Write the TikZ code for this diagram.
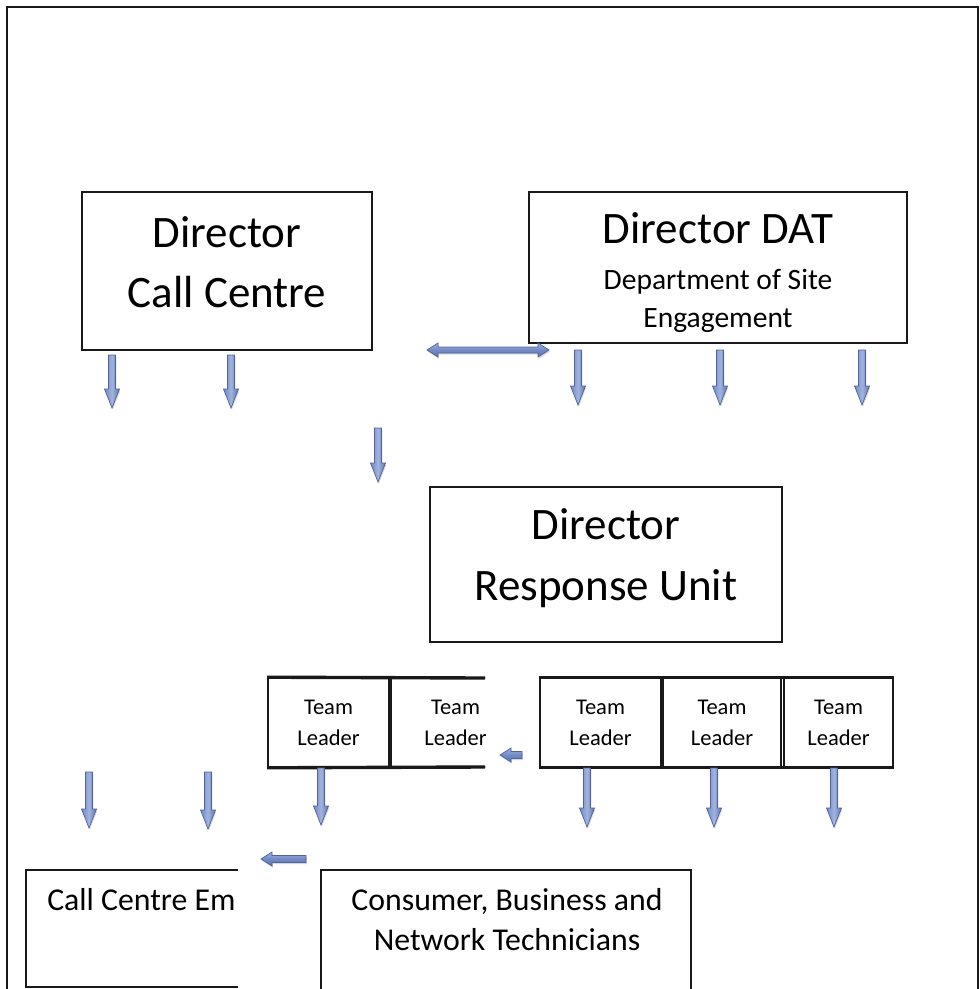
\documentclass[tikz,border=0pt]{standalone}
\usepackage{fontspec}
\setmainfont{Carlito}
\usetikzlibrary{shadows}
\definecolor{arrowblue}{RGB}{114,137,196}
\definecolor{arrowlight}{RGB}{160,178,222}
\definecolor{arrowedge}{RGB}{78,100,160}
\definecolor{linegray}{RGB}{25,25,25}
\tikzset{
    % Boxes
    dirbox/.style={
        rectangle,
        draw=linegray,
        line width=1.4pt,
        inner sep=0pt
    },
    teamcell/.style={
        rectangle,
        draw=linegray,
        line width=1.1pt,
        inner sep=0pt,
        minimum height=2.225cm,
        align=center,
        font=\fontsize{16}{22}\selectfont
    },
    % Texts
    bigtext/.style={
        align=center,
        inner sep=0pt,
        font=\fontsize{32}{43}\selectfont
    },
    midtext/.style={
        align=center,
        inner sep=0pt,
        font=\fontsize{21}{27}\selectfont
    },
    bottomtext/.style={
        align=center,
        inner sep=0pt,
        font=\fontsize{22.6}{28.5}\selectfont
    },
    % Block arrows
    blockarrow/.style={
        draw=arrowedge,
        line width=0.5pt,
        drop shadow={shadow xshift=0.6pt, shadow yshift=-1.2pt, fill=black!30, opacity=0.5}
    },
    pics/downarrow/.style={code={
        \draw[blockarrow, left color=arrowblue, right color=arrowblue!85!black, middle color=arrowlight]
            (-3.5,0) -- (-3.5,#1-19) -- (-7.5,#1-19) -- (0,#1) -- (7.5,#1-19) -- (3.5,#1-19) -- (3.5,0) -- cycle;
    }},
    pics/leftarrow/.style={code={
        \draw[blockarrow, top color=arrowlight, bottom color=arrowblue!85!black, middle color=arrowblue]
            (0,-3.5) -- (-#1+11,-3.5) -- (-#1+11,-7) -- (-#1,0) -- (-#1+11,7) -- (-#1+11,3.5) -- (0,3.5) -- cycle;
    }},
    pics/botharrow/.style={code={
        \draw[blockarrow, top color=arrowlight, bottom color=arrowblue!85!black, middle color=arrowblue]
            (0,0) -- (11,-7) -- (11,-3) -- (#1-11,-3) -- (#1-11,-7) -- (#1,0)
            -- (#1-11,7) -- (#1-11,3) -- (11,3) -- (11,7) -- cycle;
    }}
}
\begin{document}
\begin{tikzpicture}[x=0.025cm, y=-0.025cm]

    % Page
    \path[use as bounding box] (0,0) rectangle (980,989);
    \clip (0,0) rectangle (980,989);
    \draw[linegray, line width=1.8pt] (7,1010) -- (7,7) -- (978,7) -- (978,1010);

    % Directors
    \node[dirbox, minimum width=7.25cm, minimum height=3.95cm] (callcentre) at (227,271) {};
    \node[bigtext] (callcentretext) at (227,262) {Director\\Call Centre};

    \node[dirbox, minimum width=9.45cm, minimum height=3.775cm] (dat) at (718,267.5) {};
    \node[bigtext] (dattext) at (718,228) {Director DAT};
    \node[midtext] (datsub) at (718,301) {Department of Site\\Engagement};

    \node[dirbox, minimum width=8.8cm, minimum height=3.875cm] (response) at (606,564.5) {};
    \node[bigtext] (responsetext) at (606,558) {Director\\Response Unit};

    % Team leaders, left group
    \node[teamcell, minimum width=3.025cm] (tl1) at (328.5,722.5) {Team\\Leader};
    \begin{scope}
        \clip (380,660) rectangle (485,780);
        \node[teamcell, minimum width=3.225cm] (tl2) at (455.5,722.5) {Team\\Leader};
    \end{scope}
    \draw[linegray, line width=2.4pt] (tl1.north west) -- (485,678);
    \draw[linegray, line width=2.4pt] (tl1.south west) -- (485,767);

    % Team leaders, right group
    \node[teamcell, minimum width=3.025cm] (tl3) at (600.5,722.5) {Team\\Leader};
    \node[teamcell, minimum width=2.95cm] (tl4) at (722,722.5) {Team\\Leader};
    \node[teamcell, minimum width=2.725cm] (tl5) at (838.5,722.5) {Team\\Leader};
    \draw[linegray, line width=2.4pt] (tl3.north west) -- (tl5.north east);
    \draw[linegray, line width=2.4pt] (tl3.south west) -- (tl5.south east);

    % Staff
    \draw[linegray, line width=1.4pt] (238,870) -- (26,870) -- (26,987) -- (238,987);
    \begin{scope}
        \clip (20,860) rectangle (238,989);
        \node[bottomtext, anchor=west] (callstaff) at (47,900) {Call Centre Em};
    \end{scope}

    \node[dirbox, minimum width=9.225cm, minimum height=4.0cm] (techs) at (506,950) {};
    \node[bottomtext] (techtext) at (507,920) {Consumer, Business and\\Network Technicians};

    % Arrows
    \pic at (112,355) {downarrow=53};
    \pic at (231,355) {downarrow=53};
    \pic at (427,350) {botharrow=122};
    \pic at (578,350) {downarrow=55};
    \pic at (720,350) {downarrow=55};
    \pic at (862,350) {downarrow=55};
    \pic at (378,428) {downarrow=54};

    \pic at (522,755) {leftarrow=22};
    \pic at (89,772) {downarrow=56};
    \pic at (208,772) {downarrow=57};
    \pic at (321,768) {downarrow=57};
    \pic at (587,768) {downarrow=59};
    \pic at (714,768) {downarrow=59};
    \pic at (834,768) {downarrow=59};
    \pic at (306,859) {leftarrow=45};

\end{tikzpicture}
\end{document}
